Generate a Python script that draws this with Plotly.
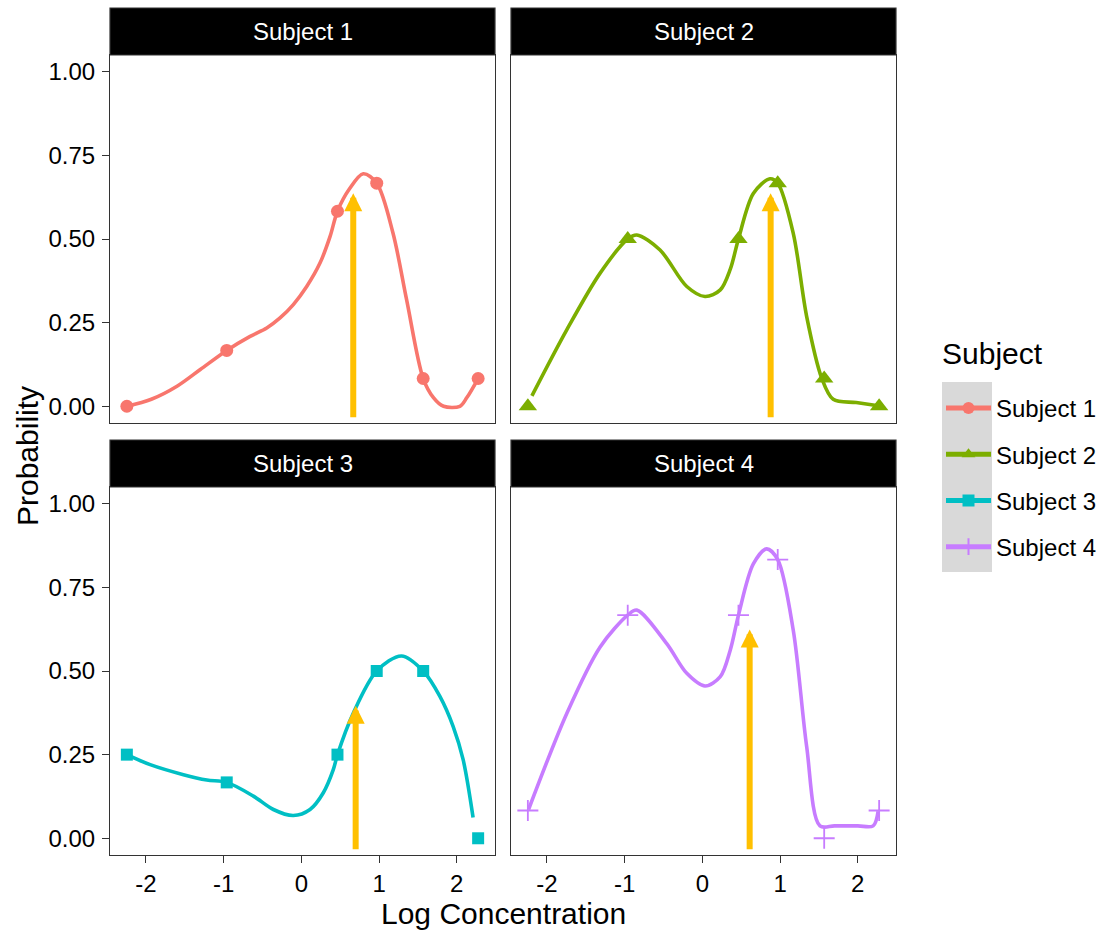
import plotly.graph_objects as go

# ---------------- data ----------------
subjects = ["Subject 1", "Subject 2", "Subject 3", "Subject 4"]
colors = ["#F8766D", "#7CAE00", "#00BFC4", "#C77CFF"]
symbols = ["circle", "triangle-up", "square", "cross-thin"]
marker_sizes = [13, 16, 12, 15]

log_conc = [-2.245, -0.96, 0.465, 0.97, 1.568, 2.275]
s1_prob = [0.0, 0.167, 0.583, 0.667, 0.083, 0.083]
s2_prob = [0.0, 0.5, 0.5, 0.667, 0.083, 0.0]
s3_prob = [0.25, 0.167, 0.25, 0.5, 0.5, 0.0]
s4_prob = [0.083, 0.667, 0.667, 0.833, 0.0, 0.083]

s1_curve_x = [-2.245, -1.93, -1.6, -1.3, -0.96, -0.659, -0.445, -0.274, -0.103, 0.069, 0.24, 0.369, 0.465, 0.62, 0.797, 0.97, 1.18, 1.355, 1.568, 1.70, 1.83, 2.04, 2.13, 2.275]
s1_curve_y = [0.0, 0.021, 0.06, 0.11, 0.167, 0.209, 0.234, 0.264, 0.304, 0.358, 0.428, 0.507, 0.583, 0.65, 0.695, 0.667, 0.517, 0.318, 0.083, 0.026, 0.0, 0.0, 0.026, 0.083]

s2_curve_x = [-2.193, -1.743, -1.315, -0.96, -0.843, -0.544, -0.2, 0.035, 0.231, 0.36, 0.465, 0.656, 0.87, 0.97, 1.17, 1.342, 1.535, 1.684, 1.98, 2.284]
s2_curve_y = [0.031, 0.229, 0.398, 0.5, 0.512, 0.467, 0.358, 0.328, 0.348, 0.41, 0.5, 0.636, 0.68, 0.667, 0.517, 0.269, 0.085, 0.021, 0.011, 0.001]

s3_curve_x = [-2.245, -1.945, -1.517, -1.216, -0.96, -0.617, -0.36, -0.103, 0.112, 0.283, 0.411, 0.465, 0.668, 0.97, 1.29, 1.568, 1.783, 1.954, 2.082, 2.21]
s3_curve_y = [0.25, 0.22, 0.19, 0.174, 0.167, 0.126, 0.086, 0.068, 0.086, 0.136, 0.205, 0.25, 0.374, 0.5, 0.545, 0.5, 0.424, 0.334, 0.235, 0.062]

s4_curve_x = [-2.236, -1.743, -1.315, -0.96, -0.843, -0.458, -0.2, 0.035, 0.231, 0.36, 0.465, 0.656, 0.828, 0.97, 1.17, 1.342, 1.513, 1.7, 2.0, 2.198, 2.262]
s4_curve_y = [0.086, 0.374, 0.572, 0.667, 0.682, 0.582, 0.493, 0.455, 0.483, 0.563, 0.667, 0.82, 0.865, 0.833, 0.622, 0.275, 0.037, 0.037, 0.037, 0.037, 0.081]

arrow_x = [0.668, 0.879, 0.699, 0.609]
arrow_tip = [0.637, 0.637, 0.396, 0.624]
arrow_base = -0.037

y_ticks = [0, 0.25, 0.5, 0.75, 1.0]
y_ticklabels = ["0.00", "0.25", "0.50", "0.75", "1.00"]
x_ticks = [-2, -1, 0, 1, 2]
x_ticklabels = ["-2", "-1", "0", "1", "2"]

probs = [s1_prob, s2_prob, s3_prob, s4_prob]
curves_x = [s1_curve_x, s2_curve_x, s3_curve_x, s4_curve_x]
curves_y = [s1_curve_y, s2_curve_y, s3_curve_y, s4_curve_y]

# ---------------- layout geometry ----------------
W, H = 1114, 931
FONT = "Liberation Sans, Arial, Helvetica, sans-serif"
FS = 24      # tick / strip / legend label size
FT = 30      # axis titles / legend title


def PX(px):
    return px / W


def PY(py):
    return 1 - py / H


xL = [PX(110), PX(495)]
xR = [PX(511), PX(896)]
yT = [PY(423), PY(55)]
yB = [PY(855), PY(487)]
domains = [(xL, yT), (xR, yT), (xL, yB), (xR, yB)]
xrange = [-2.462, 2.492]
yrange = [-0.05, 1.05]

fig = go.Figure()

for i in range(4):
    ax = "" if i == 0 else str(i + 1)
    col = colors[i]
    fig.add_trace(go.Scatter(
        x=curves_x[i], y=curves_y[i], mode="lines",
        line=dict(color=col, width=3.6, shape="spline", smoothing=0.9),
        xaxis="x" + ax, yaxis="y" + ax, showlegend=False, hoverinfo="skip"))
    mk = dict(color=col, size=marker_sizes[i], symbol=symbols[i])
    if symbols[i] == "cross-thin":
        mk["line"] = dict(color=col, width=1.8)
    fig.add_trace(go.Scatter(
        x=log_conc, y=probs[i], mode="markers", marker=mk,
        xaxis="x" + ax, yaxis="y" + ax, showlegend=False))
    # legend entry
    fig.add_trace(go.Scatter(
        x=[None], y=[None], mode="lines+markers", name=subjects[i],
        line=dict(color=col, width=3.6), marker=dict(mk),
        legendgroup=subjects[i], showlegend=True))

layout = dict(
    width=W, height=H,
    margin=dict(l=0, r=0, t=0, b=0),
    paper_bgcolor="white", plot_bgcolor="white",
    font=dict(family=FONT, size=FS, color="black"),
    showlegend=True,
)

for i, (xd, yd) in enumerate(domains):
    ax = "" if i == 0 else str(i + 1)
    left = i in (0, 2)
    bottom = i in (2, 3)
    layout["xaxis" + ax] = dict(
        domain=xd, anchor="y" + ax, range=xrange,
        showgrid=False, zeroline=False,
        showline=True, linecolor="#333333", linewidth=1.2, mirror=True,
        tickvals=x_ticks, ticktext=x_ticklabels,
        showticklabels=bottom, ticks="outside" if bottom else "",
        ticklen=7, tickcolor="#333333", tickwidth=1.2,
        tickfont=dict(family=FONT, size=FS, color="black"),
        ticklabelstandoff=0, fixedrange=True)
    layout["yaxis" + ax] = dict(
        domain=yd, anchor="x" + ax, range=yrange,
        showgrid=False, zeroline=False,
        showline=True, linecolor="#333333", linewidth=1.2, mirror=True,
        tickvals=y_ticks, ticktext=y_ticklabels,
        showticklabels=left, ticks="outside" if left else "",
        ticklen=7, tickcolor="#333333", tickwidth=1.2,
        tickfont=dict(family=FONT, size=FS, color="black"),
        ticklabelstandoff=2, fixedrange=True)

fig.update_layout(**layout)

shapes = []
annotations = []
strip_y = [[PY(55), PY(8)], [PY(55), PY(8)], [PY(487), PY(440)], [PY(487), PY(440)]]
for i, (xd, yd) in enumerate(domains):
    sy = strip_y[i]
    shapes.append(dict(type="rect", xref="paper", yref="paper",
                       x0=xd[0], x1=xd[1], y0=sy[0], y1=sy[1],
                       fillcolor="black", line=dict(color="#333333", width=1.2)))
    annotations.append(dict(text=subjects[i], xref="paper", yref="paper",
                            x=(xd[0] + xd[1]) / 2, y=(sy[0] + sy[1]) / 2,
                            showarrow=False, xanchor="center", yanchor="middle",
                            font=dict(family=FONT, size=FS, color="white")))
    ax = "" if i == 0 else str(i + 1)
    annotations.append(dict(text="", xref="x" + ax, yref="y" + ax,
                            axref="x" + ax, ayref="y" + ax,
                            x=arrow_x[i], y=arrow_tip[i],
                            ax=arrow_x[i], ay=arrow_base,
                            showarrow=True, arrowhead=2, arrowsize=0.6,
                            arrowwidth=6, arrowcolor="#FFC000"))

# legend key background
shapes.append(dict(type="rect", xref="paper", yref="paper",
                   x0=PX(942), x1=PX(992), y0=PY(572), y1=PY(382),
                   fillcolor="#D9D9D9", line=dict(width=0), layer="below"))

annotations.append(dict(text="Log Concentration", xref="paper", yref="paper",
                        x=PX(503), y=PY(913), showarrow=False,
                        xanchor="center", yanchor="middle",
                        font=dict(family=FONT, size=FT, color="black")))
annotations.append(dict(text="Probability", xref="paper", yref="paper",
                        x=PX(27), y=PY(456), showarrow=False, textangle=-90,
                        xanchor="center", yanchor="middle",
                        font=dict(family=FONT, size=FT, color="black")))
# legend title
annotations.append(dict(text="Subject", xref="paper", yref="paper",
                        x=PX(940), y=PY(353), showarrow=False,
                        xanchor="left", yanchor="middle",
                        font=dict(family=FONT, size=FT, color="black")))

fig.update_layout(
    shapes=shapes, annotations=annotations,
    legend=dict(
        x=PX(941), y=PY(386), xanchor="left", yanchor="top",
        bgcolor="rgba(0,0,0,0)", borderwidth=0,
        font=dict(family=FONT, size=FS, color="black"),
        itemwidth=45, tracegroupgap=12, itemsizing="constant",
        itemclick=False, itemdoubleclick=False),
)

fig.write_html("out.html",
               config={"displayModeBar": False, "staticPlot": False},
               post_script="document.body.style.margin='0px';document.body.style.padding='0px';")
